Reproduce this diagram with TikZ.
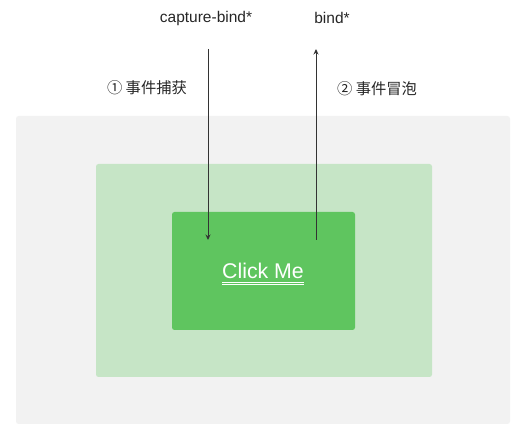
\documentclass[tikz,border=0pt]{standalone}
\usepackage{fontspec}
\setmainfont{Liberation Sans}
\newfontfamily\cjk{Noto Sans CJK SC}
\usetikzlibrary{arrows.meta,positioning}

\definecolor{windowgray}{HTML}{F2F2F2}
\definecolor{viewgreen}{HTML}{C6E5C6}
\definecolor{buttongreen}{HTML}{5FC55F}

\begin{document}
\begin{tikzpicture}[x=1pt,y=-1pt,
  panel/.style={rounded corners=2.5pt, inner sep=0pt, outer sep=0pt, anchor=north west},
  flow/.style={-{Stealth[length=5.5pt,width=5pt]}, line width=1pt, black!80},
  eventname/.style={font=\fontsize{15.5}{18}\selectfont, text=black!85},
  phase/.style={font=\cjk\fontsize{15.3}{18}\selectfont, text=black!85}]
\useasboundingbox (0,0) rectangle (531,438);

% nested views
\node[panel, fill=windowgray, minimum width=494pt, minimum height=308pt] (window) at (16,116) {};
\node[panel, fill=viewgreen, minimum width=336pt, minimum height=213pt] (view) at (96,164) {};
\node[panel, fill=buttongreen, minimum width=183pt, minimum height=118pt] (button) at (172,212) {};
\node[text=white, font=\fontsize{21.3}{25}\selectfont, inner sep=0pt, anchor=base] (clickme) at (263,279) {Click Me};
% double underline
\draw[white, line width=0.8pt] ([yshift=-3pt]clickme.base west) -- ([yshift=-3pt]clickme.base east);
\draw[white, line width=0.8pt] ([yshift=-5.5pt]clickme.base west) -- ([yshift=-5.5pt]clickme.base east);

% event names and phases
\node[eventname] (capturebind) at (206,18) {capture-bind*};
\node[eventname] (bind) at (332,18) {bind*};
\node[phase] (capturing) at (147,88) {① 事件捕获};
\node[phase] (bubbling) at (377,89) {② 事件冒泡};

\coordinate (capturetop) at (208,49);
\coordinate (capturebottom) at (208,240);
\coordinate (bubbletop) at (316,49);
\coordinate (bubblebottom) at (316,240);

\draw[flow] (capturetop) -- (capturebottom);
\draw[flow] (bubblebottom) -- (bubbletop);
\end{tikzpicture}
\end{document}
